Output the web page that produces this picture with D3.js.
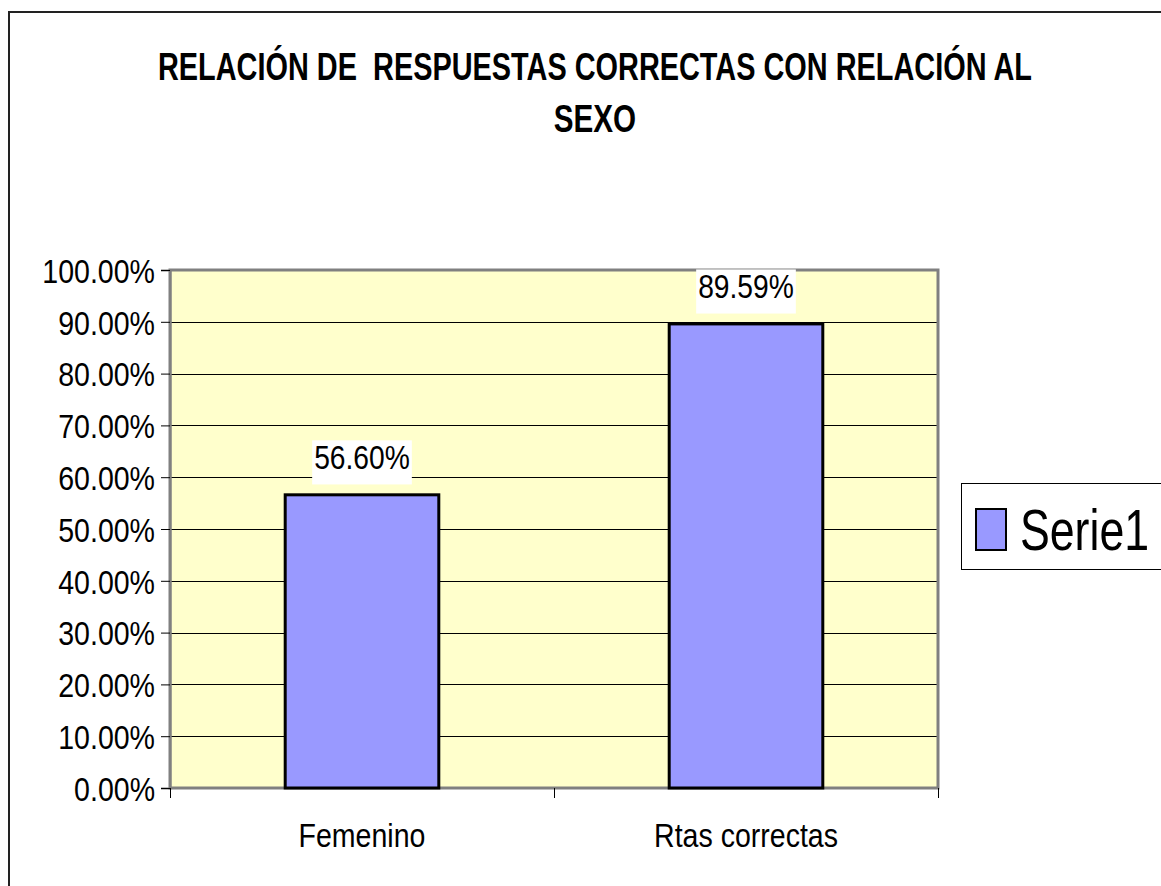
<!DOCTYPE html>
<html>
<head>
<meta charset="utf-8">
<script src="https://cdn.jsdelivr.net/npm/d3@7"></script>
<style>
  html, body { margin: 0; padding: 0; background: #fff; }
  svg { display: block; }
  text { font-family: "Liberation Sans", Arial, sans-serif; fill: #000; }
</style>
</head>
<body>
<svg id="chart" width="1161" height="886"></svg>
<script>
// ---- data ----
const categories = ["Femenino", "Rtas correctas"];
const values = [0.5660, 0.8959];
const valueLabels = ["56.60%", "89.59%"];
const yTicks = [0, 0.1, 0.2, 0.3, 0.4, 0.5, 0.6, 0.7, 0.8, 0.9, 1.0];
const seriesName = "Serie1";
const titleLines = ["RELACIÓN DE  RESPUESTAS CORRECTAS CON RELACIÓN AL", "SEXO"];

// ---- layout ----
const W = 1161, H = 886;
const plot = { left: 170, right: 938, top: 270, bottom: 788 };
const barColor = "#9999FF";
const plotBg = "#FFFFCC";
const squeeze = 0.84;

const svg = d3.select("#chart");

// horizontally condense text by scaling around its anchor x
function condense(sel, factor) {
  sel.each(function () {
    const ax = +(this.getAttribute("x") || 0);
    d3.select(this).attr("transform",
      `translate(${ax},0) scale(${factor},1) translate(${-ax},0)`);
  });
}
function fitWidth(sel, target) {
  sel.each(function () {
    const w = this.getComputedTextLength();
    d3.select(this).call(condense, target / w);
  });
}

// outer chart border
svg.append("rect")
  .attr("x", 9).attr("y", 12).attr("width", W + 20).attr("height", H + 20)
  .attr("fill", "#fff").attr("stroke", "#222").attr("stroke-width", 2);

// title
const title = svg.append("g");
title.append("text").attr("x", 595).attr("y", 80).attr("text-anchor", "middle")
  .style("white-space", "pre")
  .style("font-weight", "bold").style("font-size", "38px").text(titleLines[0])
  .call(fitWidth, 874);
title.append("text").attr("x", 595).attr("y", 132).attr("text-anchor", "middle")
  .style("font-weight", "bold").style("font-size", "38px").text(titleLines[1])
  .call(condense, 0.78);

// scales
const x = d3.scaleBand().domain(categories).range([plot.left, plot.right])
  .paddingInner(0.6).paddingOuter(0.3);
const y = d3.scaleLinear().domain([0, 1]).range([plot.bottom, plot.top]);

// plot background
svg.append("rect")
  .attr("x", plot.left).attr("y", plot.top)
  .attr("width", plot.right - plot.left).attr("height", plot.bottom - plot.top)
  .attr("fill", plotBg);

// gridlines
svg.append("g").selectAll("line").data(yTicks.filter(d => d > 0 && d < 1)).join("line")
  .attr("x1", plot.left).attr("x2", plot.right)
  .attr("y1", d => Math.round(y(d)) + 0.5).attr("y2", d => Math.round(y(d)) + 0.5)
  .attr("stroke", "#000").attr("stroke-width", 1);

// plot border
svg.append("rect")
  .attr("x", plot.left).attr("y", plot.top)
  .attr("width", plot.right - plot.left).attr("height", plot.bottom - plot.top)
  .attr("fill", "none").attr("stroke", "#808080").attr("stroke-width", 3);

// bars
svg.append("g").selectAll("rect").data(categories).join("rect")
  .attr("x", d => x(d)).attr("width", x.bandwidth())
  .attr("y", (d, i) => y(values[i])).attr("height", (d, i) => y(0) - y(values[i]))
  .attr("fill", barColor).attr("stroke", "#000").attr("stroke-width", 3);

// y axis
const yAxis = d3.axisLeft(y).tickValues(yTicks).tickSize(9).tickPadding(6)
  .tickFormat(d3.format(".2%"));
const gy = svg.append("g").attr("transform", `translate(${plot.left},0)`).call(yAxis);
gy.select(".domain").attr("stroke", "#808080").attr("stroke-width", 2);
gy.selectAll(".tick line").attr("stroke", "#000");
gy.selectAll(".tick text").style("font-size", "34px").attr("dy", "0.36em")
  .style("font-family", "'Liberation Sans', Arial, sans-serif").attr("fill", "#000")
  .call(condense, squeeze);

// x axis
const xAxis = d3.axisBottom(x).tickSize(0).tickPadding(35);
const gx = svg.append("g").attr("transform", `translate(0,${plot.bottom})`).call(xAxis);
gx.select(".domain").remove();
gx.selectAll(".tick text").style("font-size", "34px").attr("dy", "0.71em")
  .style("font-family", "'Liberation Sans', Arial, sans-serif").attr("fill", "#000")
  .call(condense, squeeze);
// category separator ticks
const step = x.step();
const boundaries = [0, 1, 2].map(i => plot.left + i * step);
svg.append("g").selectAll("line").data(boundaries).join("line")
  .attr("x1", d => d + 0.5).attr("x2", d => d + 0.5)
  .attr("y1", plot.bottom).attr("y2", plot.bottom + 10)
  .attr("stroke", "#000").attr("stroke-width", 1);

// value labels with white background
const lab = svg.append("g").selectAll("g").data(categories).join("g");
lab.append("rect").attr("class", "bg").attr("fill", "#fff");
lab.append("text")
  .attr("x", d => x(d) + x.bandwidth() / 2)
  .attr("y", (d, i) => y(values[i]) - 26)
  .attr("text-anchor", "middle").style("font-size", "34px")
  .text((d, i) => valueLabels[i])
  .call(condense, 0.83);
lab.each(function () {
  const t = d3.select(this).select("text");
  const b = t.node().getBBox();
  const cx = +t.attr("x"), w = b.width * 0.83;
  d3.select(this).select("rect")
    .attr("x", cx - w / 2 - 2).attr("y", b.y + 2).attr("width", w + 4).attr("height", b.height + 6);
});

// legend
const lg = svg.append("g");
lg.append("rect").attr("x", 961.5).attr("y", 483.5).attr("width", 260).attr("height", 86)
  .attr("fill", "#fff").attr("stroke", "#000").attr("stroke-width", 1);
lg.append("rect").attr("x", 976).attr("y", 509).attr("width", 30).attr("height", 41)
  .attr("fill", barColor).attr("stroke", "#000").attr("stroke-width", 2);
lg.append("text").attr("x", 1020).attr("y", 550).style("font-size", "58px")
  .text(seriesName).call(condense, 0.77);
</script>
</body>
</html>
